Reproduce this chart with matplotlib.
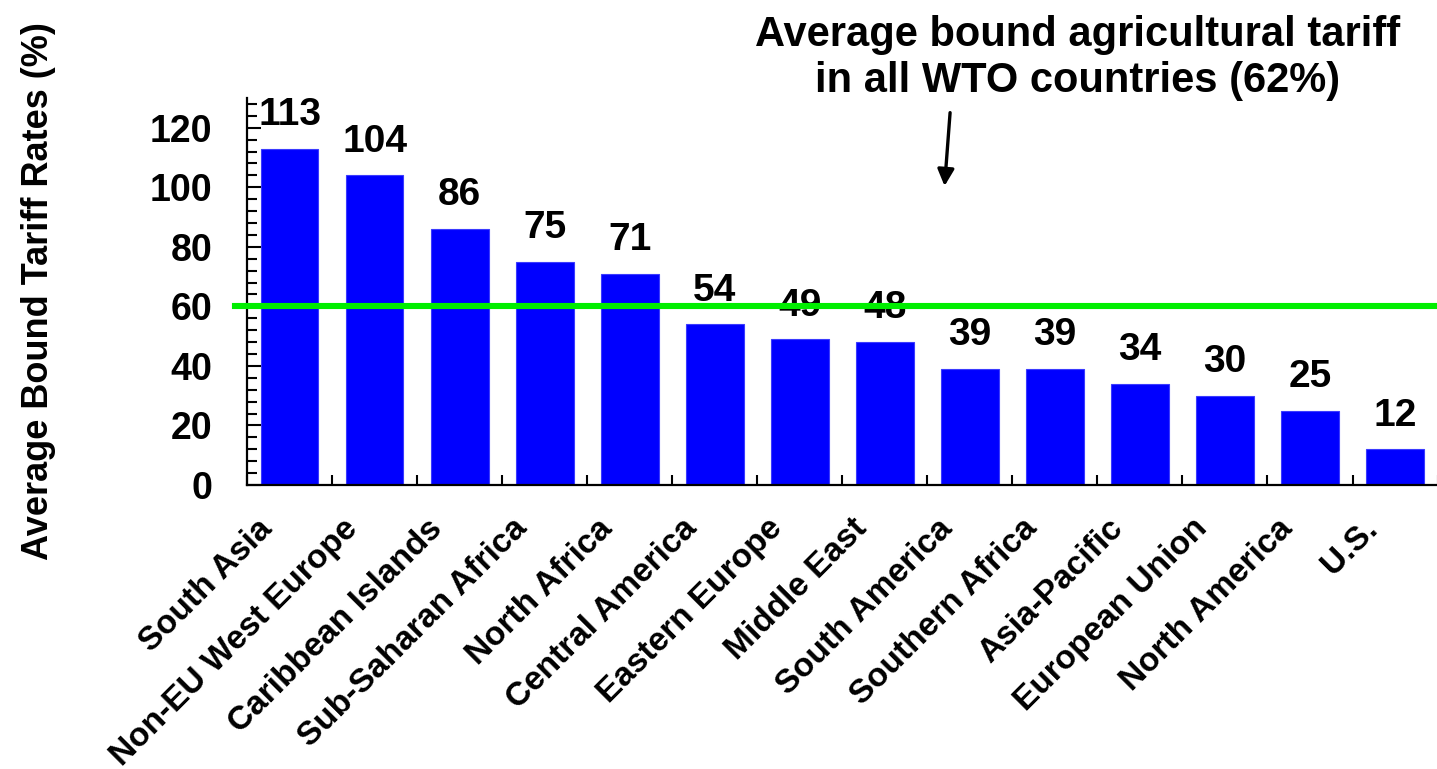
import numpy as np
import matplotlib
matplotlib.use("Agg")
import matplotlib.pyplot as plt
import matplotlib.transforms as mtransforms
from matplotlib.ticker import MultipleLocator, FixedLocator

plt.rcParams['font.family'] = ['Liberation Sans', 'DejaVu Sans']
plt.rcParams['font.weight'] = 'bold'

# Data
regions = ["South Asia", "Non-EU West Europe", "Caribbean Islands",
           "Sub-Saharan Africa", "North Africa", "Central America",
           "Eastern Europe", "Middle East", "South America",
           "Southern Africa", "Asia-Pacific", "European Union",
           "North America", "U.S."]
tariffs = [113, 104, 86, 75, 71, 54, 49, 48, 39, 39, 34, 30, 25, 12]
wto_line = 60  # where the green line sits on the axis
note = "Average bound agricultural tariff\nin all WTO countries (62%)"

fig = plt.figure(figsize=(14.37, 7.69), dpi=100)
ax = fig.add_axes([0.1719, 0.3693, 0.8285, 0.5033])

x = np.arange(len(regions))
ax.bar(x, tariffs, width=0.68, color="#0000FF", edgecolor="#3b3bff",
       linewidth=0.8, zorder=2)

# value labels above the bars
for xi, v in zip(x, tariffs):
    ax.annotate(str(v), (xi, v), xytext=(0, 17), textcoords="offset points",
                ha="center", va="baseline", fontsize=28, fontweight="bold",
                zorder=3)

# green average line (sits over the labels, as in the original)
ax.axhline(wto_line, xmin=-0.01, xmax=1.0, color="#00ee00", lw=4.4,
           zorder=5, clip_on=False)

ax.set_xlim(-0.5, len(regions) - 0.5)
ax.set_ylim(0, 130)

ax.spines["top"].set_visible(False)
ax.spines["right"].set_visible(False)
for s in ("left", "bottom"):
    ax.spines[s].set_linewidth(1.6)

ax.yaxis.set_major_locator(FixedLocator([0, 20, 40, 60, 80, 100, 120]))
ax.yaxis.set_minor_locator(MultipleLocator(4))
ax.tick_params(axis="y", which="major", direction="in", length=10, width=1.5,
               labelsize=27, pad=25)
ax.tick_params(axis="y", which="minor", direction="in", length=7, width=1.5)
for lab in ax.get_yticklabels():
    lab.set_fontweight("bold")

ax.set_xticks(x)
ax.xaxis.set_minor_locator(FixedLocator(np.arange(len(regions) + 1) - 0.5))
ax.tick_params(axis="x", which="major", direction="in", length=6, width=1.5,
               pad=28)
ax.tick_params(axis="x", which="minor", direction="in", length=7, width=1.5)
ax.set_xticklabels(regions, rotation=45, ha="right", va="center",
                   rotation_mode="anchor", fontsize=24, fontweight="bold")
shift = mtransforms.ScaledTranslation(-22 / 100, 0, fig.dpi_scale_trans)
for lab in ax.get_xticklabels():
    lab.set_transform(lab.get_transform() + shift)

fig.text(0.0265, 0.6216, "Average Bound Tariff Rates (%)", rotation=90,
         ha="center", va="center", fontsize=26, fontweight="bold")

# callout for the WTO average
fig.text(0.750, 1 - 15 / 769, note, ha="center", va="top", fontsize=30,
         fontweight="bold", linespacing=1.2)
ax.annotate("", xy=(7.70, 99.5), xytext=(7.77, 126),
            arrowprops=dict(arrowstyle="-|>,head_length=1.0,head_width=0.5",
                            color="black", lw=2.4), annotation_clip=False)

fig.savefig("out.png", dpi=100)
